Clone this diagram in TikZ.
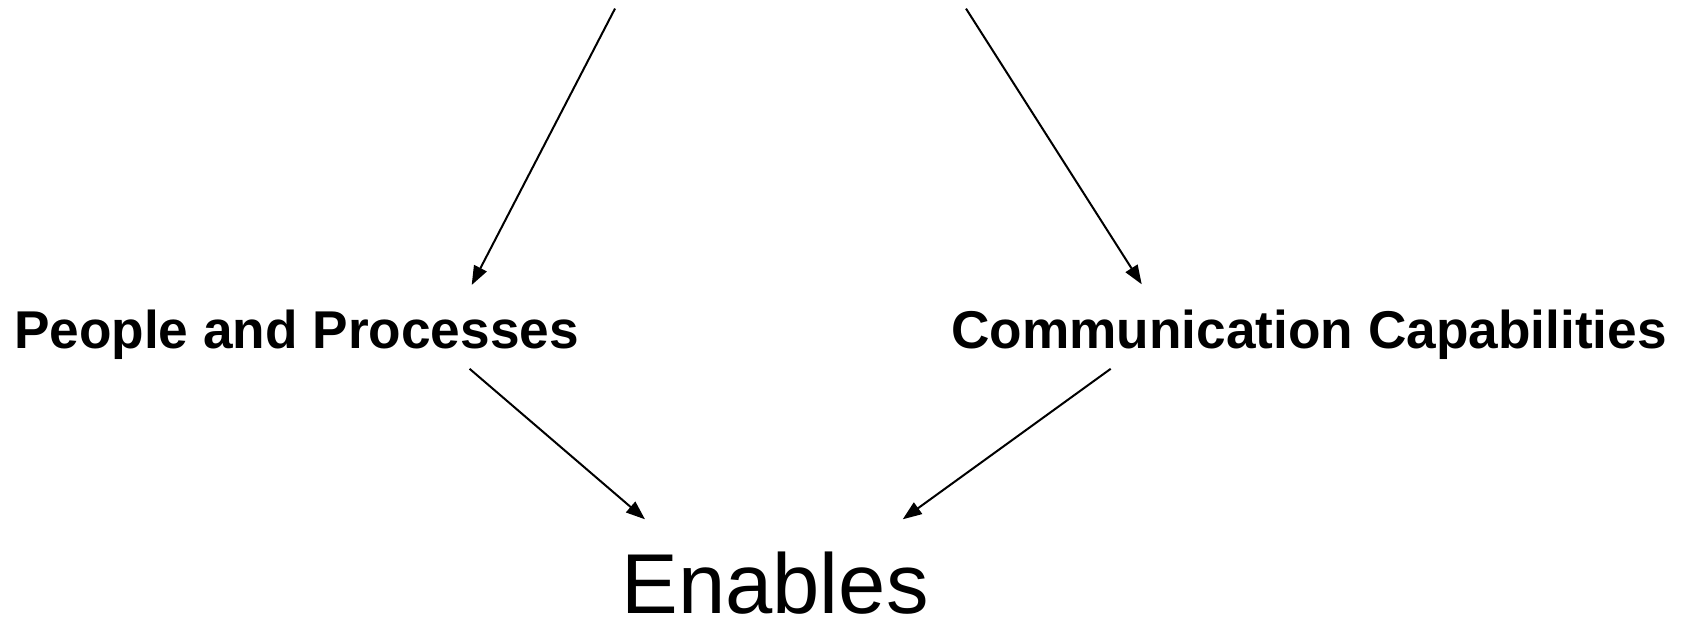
\documentclass[tikz,border=0pt]{standalone}
\usepackage{fontspec}
\setmainfont{Liberation Sans}
\usetikzlibrary{arrows.meta}
\tikzset{
  lbl/.style={font=\fontsize{53.2}{60}\selectfont\bfseries, inner sep=0pt, anchor=base},
  big/.style={font=\fontsize{85}{96}\selectfont, inner sep=0pt, anchor=base},
  arr/.style={line width=2pt, -{Triangle[length=19pt,width=14pt]}}
}
\begin{document}
\begin{tikzpicture}[x=1pt,y=-1pt]
\useasboundingbox (0,0) rectangle (1681,618);
\node[lbl] (ppl) at (296.5,348) {People and Processes};
\node[lbl] (com) at (1309,348) {Communication Capabilities};
\node[big] (en) at (775,613) {Enables};
\coordinate (ts1) at (615,8.6);
\coordinate (ts2) at (966,8.6);
\coordinate (pin) at (471.7,285);
\coordinate (cin) at (1141.7,284.3);
\coordinate (pout) at (469.6,368.8);
\coordinate (cout) at (1110.7,368.8);
\coordinate (ein1) at (645,519.3);
\coordinate (ein2) at (902.7,519.3);
\draw[arr] (ts1) -- (pin);
\draw[arr] (ts2) -- (cin);
\draw[arr] (pout) -- (ein1);
\draw[arr] (cout) -- (ein2);
\end{tikzpicture}
\end{document}
